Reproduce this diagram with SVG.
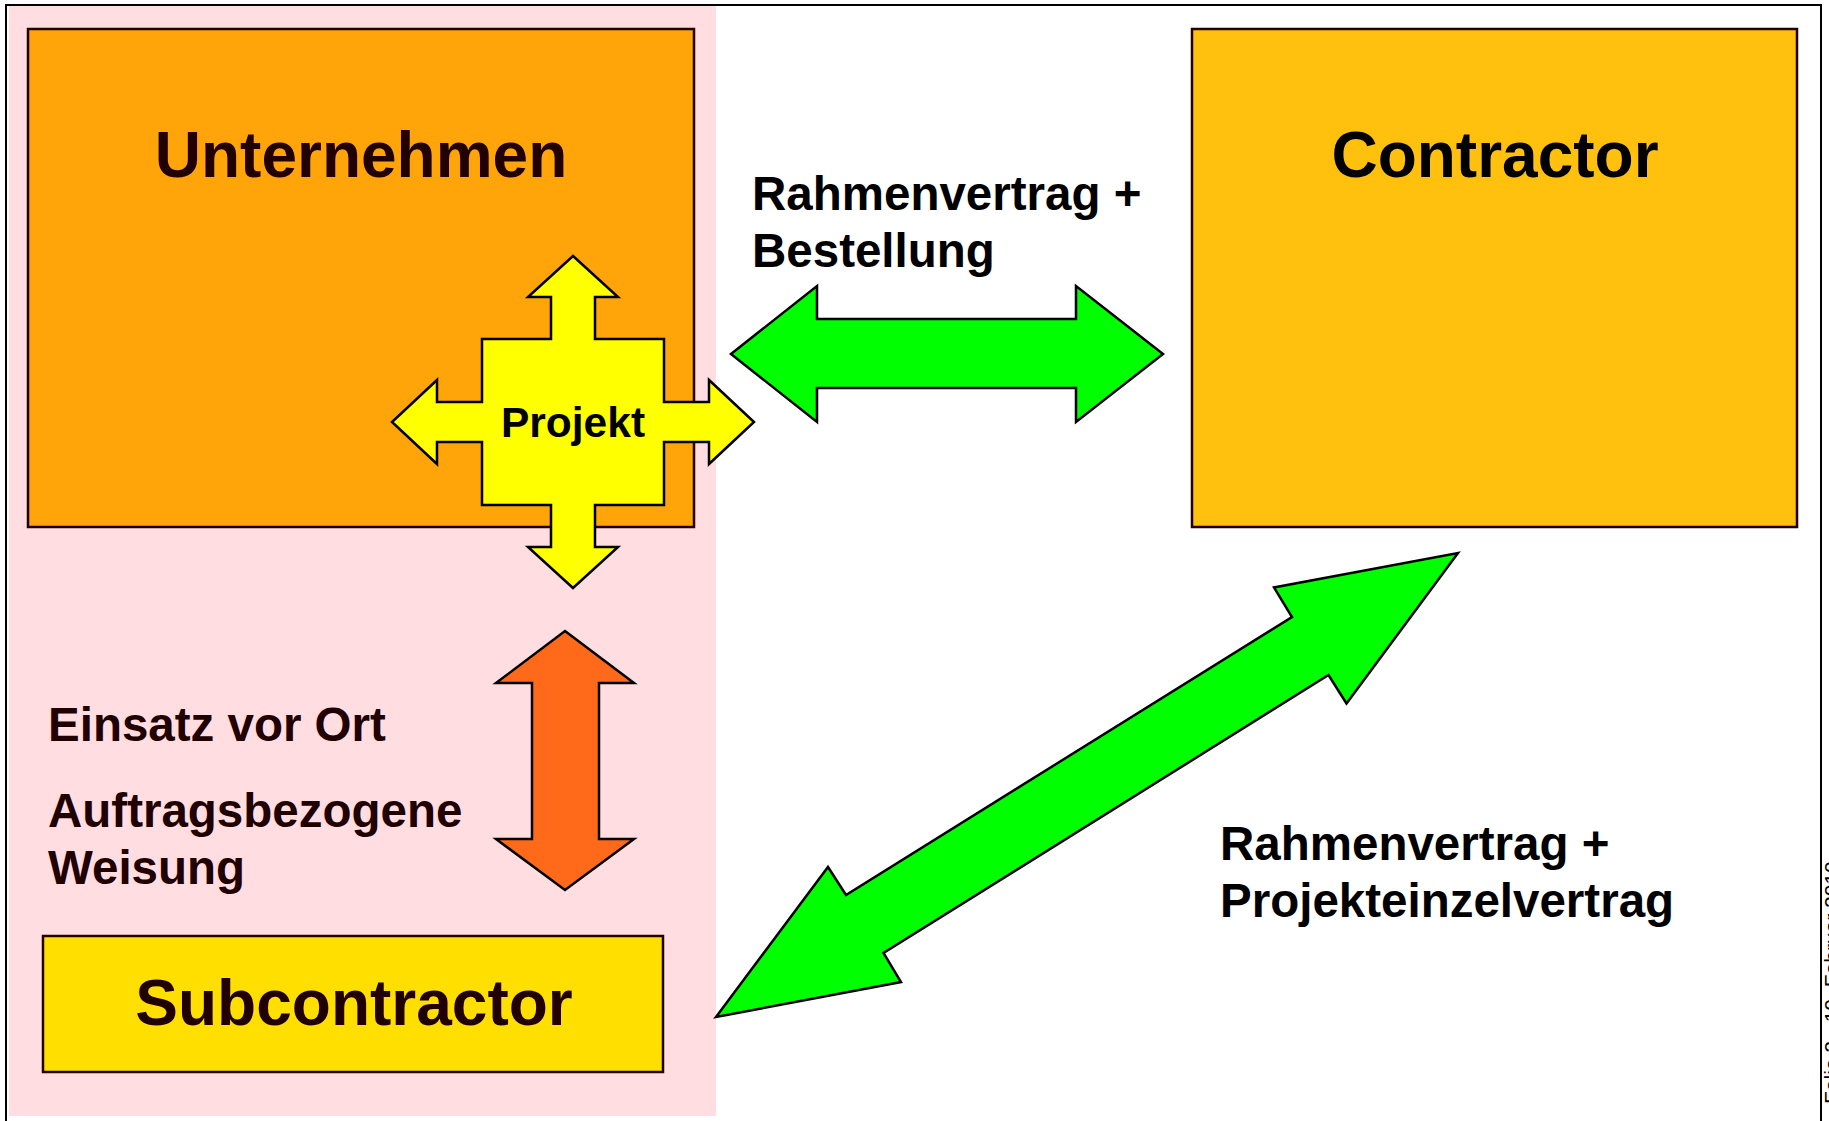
<svg xmlns="http://www.w3.org/2000/svg" width="1829" height="1121" viewBox="0 0 1829 1121">
<style>
.lbl{font-family:"Liberation Sans",Arial,sans-serif;font-weight:bold;font-size:47.5px;}
.big{font-family:"Liberation Sans",Arial,sans-serif;font-weight:bold;font-size:64px;text-anchor:middle;}
.brown{fill:#200000;}
.blk{fill:#000000;}
.box{stroke:#200000;stroke-width:2.5;}
.arr{stroke:#000000;stroke-width:2.5;stroke-linejoin:miter;}
</style>
<rect x="0" y="0" width="1829" height="1121" fill="#ffffff"/>
<rect x="9" y="6" width="707" height="1110" fill="#FFDDE0"/>
<rect x="6" y="5" width="1815" height="1130" fill="none" stroke="#000000" stroke-width="2"/>

<g id="unternehmen">
<rect class="box" x="28" y="29" width="666" height="498" fill="#FFA50A"/>
<text class="big brown" x="361" y="177">Unternehmen</text>
</g>

<g id="contractor">
<rect class="box" x="1192" y="29" width="605" height="498" fill="#FFC00E" stroke="#000000"/>
<text class="big blk" x="1495" y="177">Contractor</text>
</g>

<g id="subcontractor">
<rect class="box" x="43" y="936" width="620" height="136" fill="#FFDF00"/>
<text class="big brown" x="354" y="1025">Subcontractor</text>
</g>

<g id="projekt">
<path class="arr" fill="#FFFF00" d="M573,256 L618,297 L595,297 L595,339 L664,339 L664,402 L709,402 L709,380 L754,422 L709,464 L709,442 L664,442 L664,505 L595,505 L595,547 L618,547 L573,588 L528,547 L551,547 L551,505 L482,505 L482,442 L437,442 L437,464 L392,422 L437,380 L437,402 L482,402 L482,339 L551,339 L551,297 L528,297 Z"/>
<text x="573" y="437" font-family="Liberation Sans, Arial, sans-serif" font-weight="bold" font-size="42.5" text-anchor="middle" fill="#000000">Projekt</text>
</g>

<g id="connectors">
<path class="arr" fill="#00FF00" d="M731,354 L817,286 L817,319 L1076,319 L1076,286 L1163,354 L1076,422 L1076,388 L817,388 L817,422 Z"/>
<path class="arr" fill="#FF6A1A" stroke="#200000" d="M565,631 L634,683 L599,683 L599,839 L634,839 L565,890 L496,839 L532,839 L532,683 L496,683 Z"/>
<path class="arr" fill="#00FF00" d="M1458,553 L1346.5,703.5 L1328.5,675 L883.5,953 L901,982 L716,1017 L828,867 L846,895 L1292,617 L1274,587.5 Z"/>
</g>

<g id="labels">
<text class="lbl blk" x="752" y="210">Rahmenvertrag +</text>
<text class="lbl blk" x="752" y="267">Bestellung</text>
<text class="lbl brown" x="48" y="741">Einsatz vor Ort</text>
<text class="lbl brown" x="48" y="827">Auftragsbezogene</text>
<text class="lbl brown" x="48" y="884">Weisung</text>
<text class="lbl blk" x="1220" y="860">Rahmenvertrag +</text>
<text class="lbl blk" x="1220" y="917">Projekteinzelvertrag</text>
<text transform="translate(1839,1104) rotate(-90)" font-family="Liberation Sans, Arial, sans-serif" font-size="21" fill="#000000">Folie 2 - 10. Februar 2010</text>
</g>
</svg>
